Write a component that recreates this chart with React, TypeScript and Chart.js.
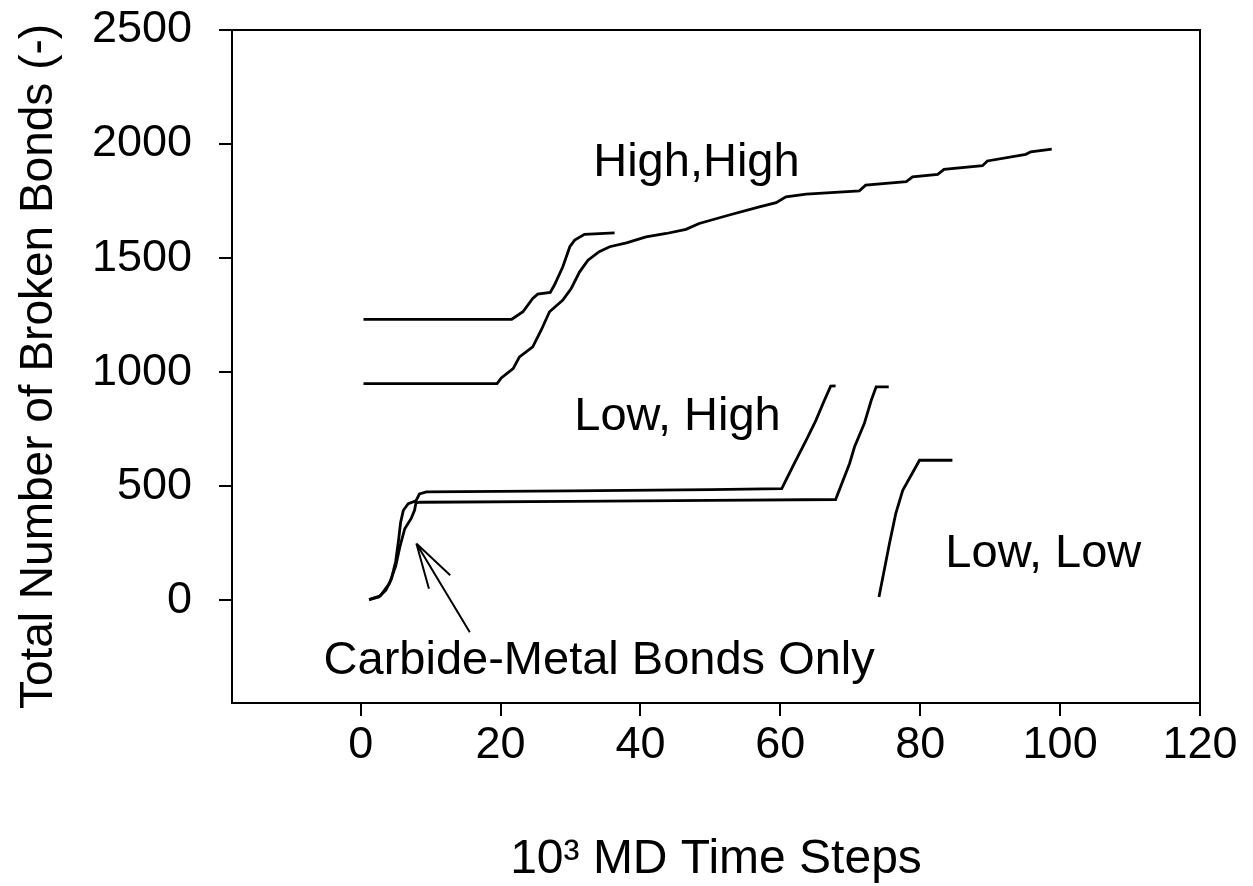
import { useEffect, useRef } from "react";
import { Chart, registerables } from "chart.js";

Chart.register(...registerables);

// Axis ticks
const X_TICKS = [0, 20, 40, 60, 80, 100, 120];
const Y_TICKS = [0, 500, 1000, 1500, 2000, 2500];

// High,High — first (shorter) run
const HH1_X = [0.4, 21.6, 23.2, 24.6, 25.3, 27.1, 27.7, 28.9, 29.9, 30.6, 32.0, 36.3];
const HH1_Y = [1232, 1232, 1265, 1323, 1342, 1350, 1382, 1462, 1550, 1579, 1604, 1611];

// High,High — second (long) run
const HH2_X = [0.4, 19.5, 20.1, 21.8, 22.7, 24.6, 25.8, 27.0, 28.9, 30.1, 31.3, 32.5, 34.1, 35.6, 38.0, 40.8, 43.7, 46.5, 48.4, 52.7, 57.0, 59.4, 60.8, 63.7, 71.3, 72.2, 78.0, 78.9, 82.5, 83.4, 88.9, 89.6, 95.1, 95.8, 98.8];
const HH2_Y = [950, 950, 975, 1016, 1067, 1111, 1184, 1265, 1316, 1367, 1440, 1491, 1528, 1550, 1567, 1593, 1608, 1626, 1652, 1689, 1725, 1743, 1769, 1781, 1795, 1820, 1835, 1856, 1867, 1889, 1905, 1926, 1955, 1966, 1978];

// Low,High — first run
const LH1_X = [1.2, 2.6, 3.6, 4.4, 5.0, 5.4, 5.7, 6.1, 6.8, 7.9, 8.4, 9.4, 30, 50, 60.2, 62.0, 63.7, 65.1, 66.3, 67.2, 67.9];
const LH1_Y = [3, 15, 45, 95, 170, 260, 340, 395, 424, 436, 466, 475, 480, 485, 490, 600, 702, 790, 877, 939, 940];

// Low,High — second run
const LH2_X = [1.2, 2.8, 4.1, 5.0, 5.6, 6.3, 7.2, 7.7, 7.9, 8.5, 30, 50, 67.9, 69.9, 70.6, 72.0, 73.0, 73.7, 75.5];
const LH2_Y = [3, 20, 73, 150, 234, 314, 358, 395, 427, 430, 434, 438, 442, 600, 672, 775, 877, 936, 936];

// Low,Low
const LL_X = [74.1, 75.6, 76.5, 77.5, 79.9, 84.6];
const LL_Y = [15, 249, 380, 482, 614, 614];

// In-plot annotations (data coordinates)
const LABEL_TEXTS = ["High,High", "Low, High", "Low, Low", "Carbide-Metal Bonds Only"];
const LABEL_X = [48.0, 45.3, 97.6, 34.1];
const LABEL_Y = [1917, 803, 202, -268];

// Arrow: tip, tail, and two head ends (data coordinates)
const ARROW_X = [7.96, 15.6, 9.76, 12.8];
const ARROW_Y = [249, -140, 51, 110];

const FONT = '"Liberation Sans", Arial, Helvetica, sans-serif';

const toPoints = (xs: number[], ys: number[]) => xs.map((x, i) => ({ x, y: ys[i] }));

const framePlugin = {
  id: "frameAndNotes",
  afterDatasetsDraw(chart: any) {
    const { ctx, chartArea: a, scales } = chart;
    const xs = scales.x;
    const ys = scales.y;
    ctx.save();
    ctx.strokeStyle = "#000";
    ctx.lineWidth = 2;
    ctx.strokeRect(a.left, a.top, a.right - a.left, a.bottom - a.top);

    ctx.fillStyle = "#000";
    ctx.font = `47px ${FONT}`;
    ctx.textAlign = "center";
    ctx.textBaseline = "middle";
    LABEL_TEXTS.forEach((t, i) => {
      ctx.fillText(t, xs.getPixelForValue(LABEL_X[i]), ys.getPixelForValue(LABEL_Y[i]));
    });

    const px = ARROW_X.map((v) => xs.getPixelForValue(v));
    const py = ARROW_Y.map((v) => ys.getPixelForValue(v));
    ctx.lineWidth = 2;
    ctx.beginPath();
    for (let i = 1; i < 4; i++) {
      ctx.moveTo(px[0], py[0]);
      ctx.lineTo(px[i], py[i]);
    }
    ctx.stroke();
    ctx.restore();
  },
};

export default function App() {
  const ref = useRef<HTMLCanvasElement | null>(null);

  useEffect(() => {
    if (!ref.current) return;
    const series = [
      toPoints(HH1_X, HH1_Y),
      toPoints(HH2_X, HH2_Y),
      toPoints(LH1_X, LH1_Y),
      toPoints(LH2_X, LH2_Y),
      toPoints(LL_X, LL_Y),
    ];
    const chart = new Chart(ref.current, {
      type: "line",
      data: {
        datasets: series.map((d, i) => ({
          label: "s" + i,
          data: d,
          borderColor: "#000",
          borderWidth: 2.8,
          pointRadius: 0,
          tension: 0,
          fill: false,
        })),
      },
      options: {
        responsive: false,
        animation: false,
        events: [],
        layout: { padding: { left: 0, top: 30, right: 53, bottom: 0 } },
        plugins: {
          legend: { display: false },
          tooltip: { enabled: false },
          title: { display: false },
        },
        scales: {
          x: {
            type: "linear",
            min: -18.4,
            max: 120,
            afterBuildTicks: (s: any) => {
              s.ticks = X_TICKS.map((v) => ({ value: v }));
            },
            afterFit: (s: any) => {
              s.height = 183;
              s.paddingLeft = 0;
              s.paddingRight = 0;
            },
            ticks: {
              color: "#000",
              font: { family: FONT, size: 45, lineHeight: 1 },
              padding: 7,
              maxRotation: 0,
              autoSkip: false,
              callback: (v: any) => String(v),
            },
            grid: {
              display: true,
              drawOnChartArea: false,
              drawTicks: true,
              tickLength: 13,
              color: "#000",
              lineWidth: 2,
            },
            border: { display: false },
            title: {
              display: true,
              text: "10³ MD Time Steps",
              color: "#000",
              font: { family: FONT, size: 48, lineHeight: 1 },
              padding: { top: 0, bottom: 2 },
            },
          },
          y: {
            type: "linear",
            min: -450,
            max: 2500,
            afterBuildTicks: (s: any) => {
              s.ticks = Y_TICKS.map((v) => ({ value: v }));
            },
            afterFit: (s: any) => {
              s.width = 232;
              s.paddingTop = 0;
              s.paddingBottom = 0;
            },
            ticks: {
              color: "#000",
              font: { family: FONT, size: 45, lineHeight: 1 },
              padding: 27,
              autoSkip: false,
              callback: (v: any) => String(v),
            },
            grid: {
              display: true,
              drawOnChartArea: false,
              drawTicks: true,
              tickLength: 13,
              color: "#000",
              lineWidth: 2,
            },
            border: { display: false },
            title: {
              display: true,
              text: "Total Number of Broken Bonds (-)",
              color: "#000",
              font: { family: FONT, size: 46, lineHeight: 1 },
              padding: { top: 16, bottom: 0 },
            },
          },
        },
      },
      plugins: [framePlugin],
    });
    return () => chart.destroy();
  }, []);

  return (
    <div style={{ position: "absolute", left: 0, top: 0, width: 1253, height: 886, background: "#fff" }}>
      <canvas ref={ref} width={1253} height={886} style={{ display: "block" }} />
    </div>
  );
}
